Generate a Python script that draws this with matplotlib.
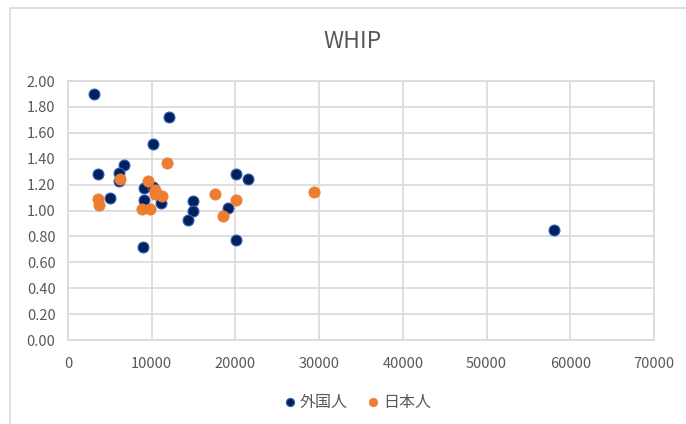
import matplotlib.pyplot as plt
from matplotlib.patches import Rectangle

# datos
x_ext = [3100, 12100, 10200, 6700, 3600, 6100, 6100, 5000, 9100, 10200,
         9100, 11100, 14900, 14900, 14300, 9000, 20100, 21500, 19100, 20100, 58000]
y_ext = [1.90, 1.72, 1.51, 1.35, 1.28, 1.29, 1.23, 1.10, 1.17, 1.18,
         1.08, 1.06, 1.07, 1.00, 0.93, 0.72, 1.28, 1.24, 1.02, 0.77, 0.85]

x_jap = [11800, 6200, 9600, 3600, 3700, 8800, 9800, 10400, 10400, 11200,
         17500, 18500, 20100, 29400]
y_jap = [1.37, 1.24, 1.23, 1.09, 1.04, 1.01, 1.01, 1.16, 1.13, 1.11,
         1.13, 0.96, 1.08, 1.14]

x_ticks = [0, 10000, 20000, 30000, 40000, 50000, 60000, 70000]
y_ticks = [0.0, 0.2, 0.4, 0.6, 0.8, 1.0, 1.2, 1.4, 1.6, 1.8, 2.0]

gris = '#595959'
plt.rcParams['font.family'] = ['Noto Sans CJK JP', 'DejaVu Sans']

fig = plt.figure(figsize=(6.86, 4.24), dpi=100)
# borde exterior del gráfico
fig.patches.append(Rectangle((10/686, -0.1), 1.2, (424 - 8.5)/424 + 0.1,
                             transform=fig.transFigure, fill=False,
                             edgecolor='#d9d9d9', linewidth=1.2))

ax = fig.add_axes([68/686, 84/424, 586/686, 259/424])
ax.scatter(x_ext, y_ext, s=62, color='#002060', edgecolors='#3a66b0',
           linewidths=0.8, label='外国人', zorder=3)
ax.scatter(x_jap, y_jap, s=66, color='#ED7D31', edgecolors='#ED7D31',
           linewidths=0.5, label='日本人', zorder=3)

ax.set_xlim(0, 70000)
ax.set_ylim(0, 2.0)
ax.set_xticks(x_ticks)
ax.set_yticks(y_ticks)
ax.set_xticklabels([str(v) for v in x_ticks])
ax.set_yticklabels([f'{v:.2f}' for v in y_ticks])
ax.tick_params(length=0, colors=gris, labelsize=10.5)
ax.tick_params(axis='y', pad=9)
ax.tick_params(axis='x', pad=12)
ax.grid(True, color='#d9d9d9', linewidth=1.2)
ax.set_axisbelow(True)
for s in ax.spines.values():
    s.set_color('#d9d9d9')
    s.set_linewidth(1.2)

fig.text(353/686, (424 - 42)/424, 'WHIP', ha='center', va='center',
         fontsize=16.5, color=gris)

fig.legend(loc='center', bbox_to_anchor=(358/686, (424 - 402)/424),
           ncol=2, frameon=False, fontsize=11.5, labelcolor=gris,
           handlelength=0.6, handletextpad=0.3, columnspacing=1.3,
           markerscale=0.75)

fig.savefig('out.png', dpi=100)
